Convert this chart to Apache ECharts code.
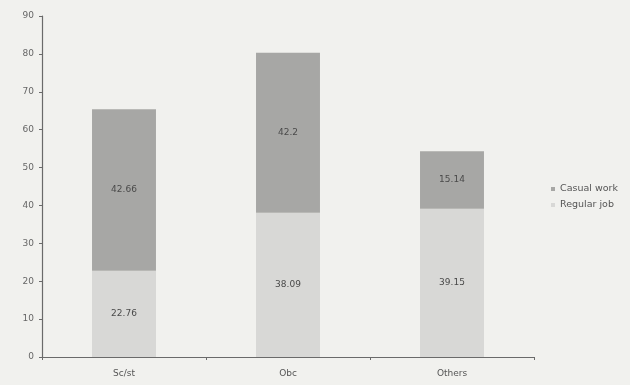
<!DOCTYPE html>
<html><head><meta charset="utf-8">
<script src="https://cdn.jsdelivr.net/npm/echarts@6/dist/echarts.min.js"></script>
<style>html,body{margin:0;padding:0;background:#f1f1ee;}#c{width:630px;height:385px;}</style>
</head><body><div id="c"></div>
<script>
var categories = ['Sc/st', 'Obc', 'Others'];
var regularJob = [22.76, 38.09, 39.15];
var casualWork = [42.66, 42.2, 15.14];
var yTicks = [0, 10, 20, 30, 40, 50, 60, 70, 80, 90];

var chart = echarts.init(document.getElementById('c'));
var lbl = {show: true, position: 'inside', color: '#4a4a4a', fontSize: 9, fontFamily: 'DejaVu Sans'};
chart.setOption({
  animation: false,
  backgroundColor: '#f1f1ee',
  grid: {left: 42, right: 96, top: 16, bottom: 28},
  legend: {
    orient: 'vertical', left: 546, top: 179, itemWidth: 4, itemHeight: 4, itemGap: 6,
    icon: 'rect',
    textStyle: {fontSize: 9.5, color: '#555', fontFamily: 'DejaVu Sans'},
    data: ['Casual work', 'Regular job']
  },
  xAxis: {
    type: 'category', data: categories,
    axisLine: {lineStyle: {color: '#6a6a6a', width: 1.2}},
    axisTick: {show: true, length: 3, lineStyle: {color: '#6a6a6a'}},
    axisLabel: {fontSize: 9, color: '#555', margin: 12, fontFamily: 'DejaVu Sans'}
  },
  yAxis: {
    type: 'value', min: yTicks[0], max: yTicks[yTicks.length - 1], interval: 10,
    splitLine: {show: false},
    axisLine: {show: true, lineStyle: {color: '#6a6a6a', width: 1.2}},
    axisTick: {show: true, length: 3, lineStyle: {color: '#6a6a6a'}},
    axisLabel: {fontSize: 9, color: '#666', margin: 8, fontFamily: 'DejaVu Sans'}
  },
  series: [
    {name: 'Regular job', type: 'bar', stack: 's', data: regularJob, barWidth: '39%',
     itemStyle: {color: '#d8d8d6'}, label: lbl},
    {name: 'Casual work', type: 'bar', stack: 's', data: casualWork, barWidth: '39%',
     itemStyle: {color: '#a7a7a5'}, label: lbl}
  ]
});
</script></body></html>
